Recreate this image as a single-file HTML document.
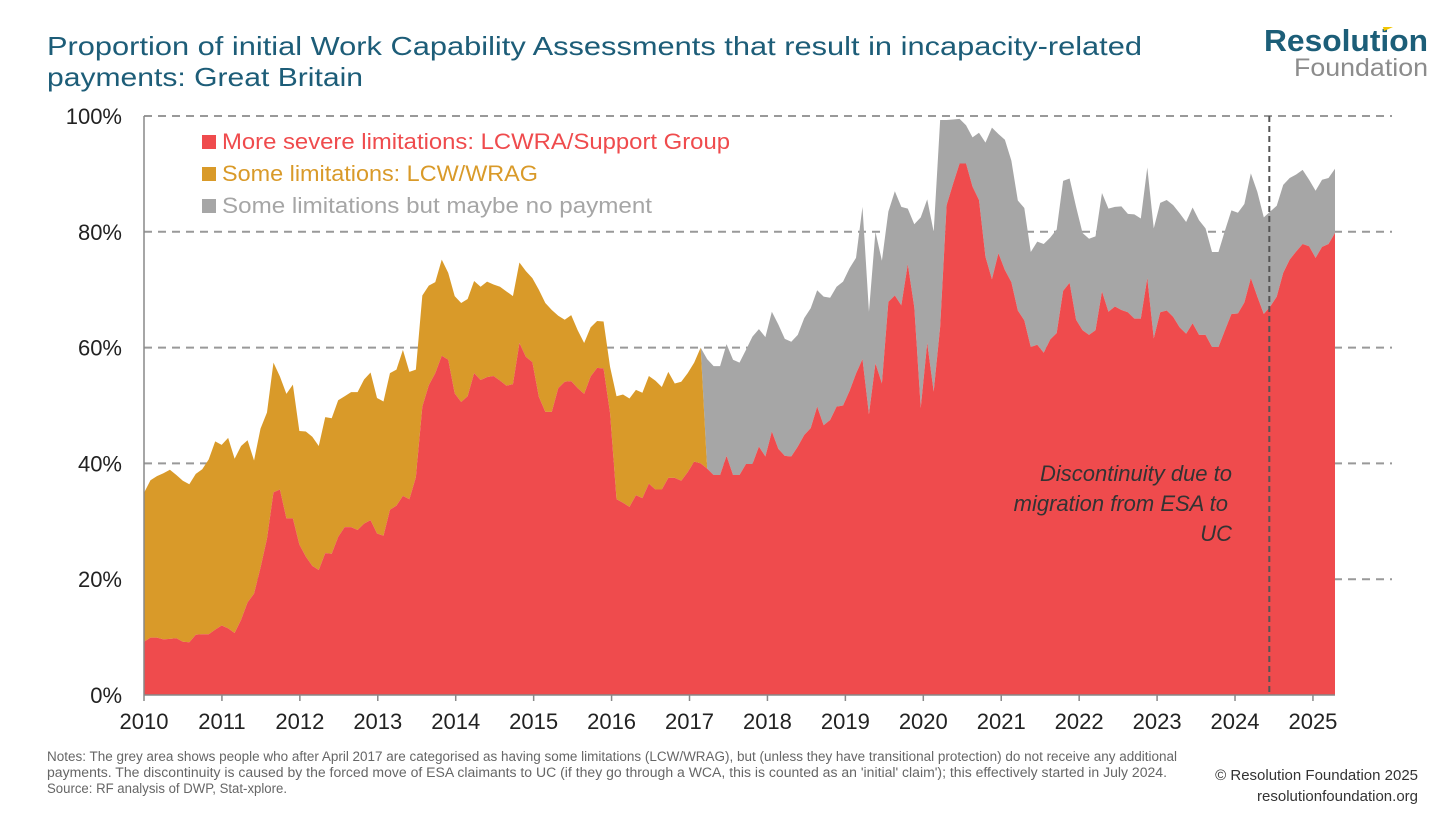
<!DOCTYPE html>
<html><head><meta charset="utf-8"><style>
html,body{margin:0;padding:0;background:#fff}
svg{display:block}
text{font-family:"Liberation Sans",sans-serif}
</style></head><body>
<svg id="chart" width="1456" height="819" viewBox="0 0 1456 819" xmlns="http://www.w3.org/2000/svg">
<text x="47" y="55" font-size="26" fill="#1d5d78" textLength="1095" lengthAdjust="spacingAndGlyphs">Proportion of initial Work Capability Assessments that result in incapacity-related</text>
<text x="47" y="86" font-size="26" fill="#1d5d78" textLength="316" lengthAdjust="spacingAndGlyphs">payments: Great Britain</text>
<g>
<text x="1428" y="51" font-size="31" font-weight="bold" fill="#1c5e78" text-anchor="end" textLength="164" lengthAdjust="spacingAndGlyphs">Resolution</text>
<polygon points="1383,27 1393,27 1384,31" fill="#f2c500"/>
<text x="1428" y="76" font-size="25" fill="#8c8c8c" text-anchor="end" textLength="134" lengthAdjust="spacingAndGlyphs">Foundation</text>
</g>
<g id="grid"></g>
<g id="areas"></g>
<g id="axes"></g>
<g>
<g><rect x="202" y="135" width="14" height="14" fill="#ef4b4d"/><text x="222" y="149" font-size="22" fill="#ef4b4d" textLength="508" lengthAdjust="spacingAndGlyphs">More severe limitations: LCWRA/Support Group</text></g>
<g><rect x="202" y="167" width="14" height="14" fill="#d99a29"/><text x="222" y="181" font-size="22" fill="#d99a29" textLength="316" lengthAdjust="spacingAndGlyphs">Some limitations: LCW/WRAG</text></g>
<g><rect x="202" y="199" width="14" height="14" fill="#a6a6a6"/><text x="222" y="213" font-size="22" fill="#a6a6a6" textLength="430" lengthAdjust="spacingAndGlyphs">Some limitations but maybe no payment</text></g>
</g>
<g font-size="22" font-style="italic" fill="#333" text-anchor="end">
<text x="1232" y="481">Discontinuity due to</text>
<text x="1228" y="511">migration from ESA to</text>
<text x="1232" y="541">UC</text>
</g>
<g font-size="13.5" fill="#666">
<text x="47" y="761" textLength="1130" lengthAdjust="spacingAndGlyphs">Notes: The grey area shows people who after April 2017 are categorised as having some limitations (LCW/WRAG), but (unless they have transitional protection) do not receive any additional</text>
<text x="47" y="777" textLength="1120" lengthAdjust="spacingAndGlyphs">payments. The discontinuity is caused by the forced move of ESA claimants to UC (if they go through a WCA, this is counted as an 'initial' claim'); this effectively started in July 2024.</text>
<text x="47" y="793" textLength="240" lengthAdjust="spacingAndGlyphs">Source: RF analysis of DWP, Stat-xplore.</text>
</g>
<g font-size="15" fill="#333" text-anchor="end">
<text x="1418" y="780">© Resolution Foundation 2025</text>
<text x="1418" y="801">resolutionfoundation.org</text>
</g>
</svg>
<script>
const years = ["2010","2011","2012","2013","2014","2015","2016","2017","2018","2019","2020","2021","2022","2023","2024","2025"];
const yTicks = [0,20,40,60,80,100];
const lcwEndIndex = 86;
const severe = [9.2,9.9,9.9,9.6,9.7,9.8,9.2,9.1,10.4,10.5,10.5,11.3,
12,11.5,10.7,13,16,17.5,22,27,35,35.5,30.5,30.5,
26,23.9,22.3,21.6,24.5,24.4,27.3,29,29,28.5,29.6,30.2,
27.9,27.5,32,32.7,34.4,33.8,37.6,49.8,53.5,55.6,58.6,57.9,
52.1,50.6,51.6,55.6,54.4,54.9,55.1,54.3,53.4,53.7,60.8,58.4,
57.5,51.5,48.9,48.9,53,54.1,54.2,53,52,55,56.5,56.4,
48.7,33.8,33.2,32.5,34.5,34,36.5,35.5,35.5,37.5,37.5,37,
38.5,40.3,40,39.1,38,38,41.3,38,38,39.9,39.9,42.9,
41.2,45.5,42.5,41.3,41.2,42.9,44.9,46.1,49.8,46.6,47.5,49.8,
50,52.5,55.5,58,48.5,57.3,53.8,67.9,69,67.3,74.4,67,
49.6,60.8,52.4,63.6,84.6,88.3,91.8,91.8,87.8,85.5,75.7,71.8,
76.3,73.4,71.3,66.4,64.7,60.1,60.5,59.1,61.4,62.5,69.8,71.2,
64.8,63,62.2,63,69.7,66.2,67.1,66.5,66.1,65,65,72,
61.6,66.1,66.4,65.3,63.5,62.4,64.2,62.2,62.2,60.1,60.1,63,
65.8,65.9,67.8,72,68.8,65.8,67.1,68.8,72.9,75.2,76.6,77.9,
77.5,75.5,77.4,77.9,79.8];
const total = [34.9,37.1,37.8,38.3,38.9,38,37,36.4,38.2,39,40.7,43.8,
43.2,44.4,40.8,43,44,40.5,46,48.8,57.4,55,52,53.6,
45.6,45.5,44.6,43,48,47.8,50.9,51.6,52.3,52.3,54.5,55.7,
51.3,50.7,55.6,56.2,59.6,55.8,56.2,69,70.7,71.3,75.2,72.9,
68.9,67.7,68.4,71.5,70.5,71.4,70.9,70.5,69.7,68.9,74.7,73.2,
72,70,67.7,66.5,65.5,64.8,65.6,63,60.8,63.5,64.6,64.5,
56.7,51.6,51.9,51.2,52.7,52.2,55.1,54.3,53.2,55.8,53.8,54.1,
55.6,57.4,60,58,56.8,56.8,60.6,57.9,57.4,59.6,61.9,63.2,
61.8,66.2,64,61.5,61,62.2,65.1,66.8,69.9,68.8,68.6,70.5,
71.4,73.7,75.5,84.3,66.2,80,75,83.5,87,84.3,84,81.3,
82.5,85.6,80,99.3,99.3,99.4,99.5,98.4,96.3,97.1,95.4,98,
96.9,95.9,92.3,85.4,84.1,76.5,78.3,77.9,79,80.4,88.8,89.2,
84.3,79.8,78.8,79.2,86.7,84,84.3,84.4,83.1,83,82.3,91.1,
80.6,85,85.5,84.6,83.2,81.7,84.2,82,80.6,76.5,76.5,80.2,
83.7,83.3,84.8,90.1,86.9,82.5,83.5,84.5,88.1,89.3,89.9,90.7,
89,87.1,89,89.3,90.9];
const discontinuityYear = 2024.44;

const NS = "http://www.w3.org/2000/svg";
const X0 = 144, X1 = 1335, Y0 = 695, Y100 = 116, YEARW = 77.93;
const n = severe.length;
const xs = i => X0 + i * (X1 - X0) / (n - 1);
const ys = v => Y0 - v * (Y0 - Y100) / 100;
const xYear = y => X0 + (y - 2010) * YEARW;
const lcw = severe.map((s, i) => i <= lcwEndIndex ? total[i] - s : 0);
const noPay = severe.map((s, i) => i > lcwEndIndex ? total[i] - s : 0);

function mk(tag, attrs, parent) {
  const e = document.createElementNS(NS, tag);
  for (const k in attrs) e.setAttribute(k, attrs[k]);
  parent.appendChild(e);
  return e;
}
const grid = document.getElementById('grid');
yTicks.forEach(t => {
  if (t === 0) return;
  const l = mk('line', {x1: X0, x2: 1392, y1: ys(t), y2: ys(t), stroke: '#999', 'stroke-width': 2, 'stroke-dasharray': '8,6'}, grid);
  
  
});
function band(lower, upper, color, name) {
  let d = '';
  for (let i = 0; i < n; i++) d += (i ? 'L' : 'M') + xs(i).toFixed(2) + ',' + ys(upper[i]).toFixed(2);
  for (let i = n - 1; i >= 0; i--) d += 'L' + xs(i).toFixed(2) + ',' + ys(lower[i]).toFixed(2);
  const p = mk('path', {d: d + 'Z', fill: color}, document.getElementById('areas'));
  
  
}
const zero = severe.map(() => 0);
const top1 = severe.map((s, i) => s + lcw[i]);
const top2 = top1.map((s, i) => s + noPay[i]);
band(top1, top2, '#a6a6a6', 'area-no-payment');
band(severe, top1, '#d99a29', 'area-lcw-wrag');
band(zero, severe, '#ef4b4d', 'area-severe-lcwra');

const axes = document.getElementById('axes');
const dl = mk('line', {x1: xYear(discontinuityYear), x2: xYear(discontinuityYear), y1: Y100, y2: Y0, stroke: '#555', 'stroke-width': 2, 'stroke-dasharray': '6,4'}, axes);


const ya = mk('line', {x1: X0, x2: X0, y1: Y100, y2: Y0, stroke: '#888', 'stroke-width': 1.5}, axes);


const xa = mk('line', {x1: X0, x2: X1, y1: Y0, y2: Y0, stroke: '#888', 'stroke-width': 1.5}, axes);


yTicks.forEach(t => {
  const tx = mk('text', {x: 122, y: ys(t) + 8, 'font-size': 22, fill: '#222', 'text-anchor': 'end'}, axes);
  tx.textContent = t + '%';
  
  
});
years.forEach((yr, k) => {
  const x = xYear(+yr);
  const tk = mk('line', {x1: x, x2: x, y1: Y0, y2: Y0 + 6, stroke: '#888', 'stroke-width': 1.5}, axes);
  
  
  const tx = mk('text', {x: x, y: 729, 'font-size': 22, fill: '#222', 'text-anchor': 'middle'}, axes);
  tx.textContent = yr;
  
  
});
</script>
</body></html>
